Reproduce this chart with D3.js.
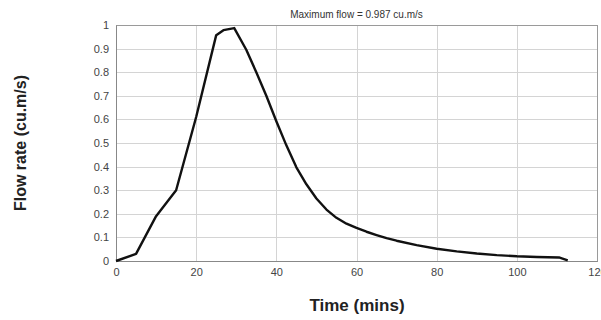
<!DOCTYPE html>
<html><head><meta charset="utf-8">
<script src="https://cdnjs.cloudflare.com/ajax/libs/d3/7.8.5/d3.min.js"></script>
<style>body{margin:0;background:#fff}svg{display:block}</style>
</head><body><svg id="c" width="601" height="320"></svg>
<script>
const time = [0,5,10,15,20,25,26.8,29.5,32.5,35,37.5,40,42.5,45,47.5,50,52.5,55,57.5,60,62.5,65,67.5,70,75,80,85,90,95,100,105,110.5,112.7];
const flow = [0,0.03,0.19,0.3,0.61,0.957,0.978,0.987,0.895,0.80,0.70,0.592,0.49,0.397,0.325,0.265,0.218,0.183,0.158,0.14,0.124,0.11,0.097,0.086,0.067,0.052,0.041,0.032,0.025,0.02,0.017,0.015,0.003];
const xTicks = [0,20,40,60,80,100,120];
const yTicks = [0,0.1,0.2,0.3,0.4,0.5,0.6,0.7,0.8,0.9,1];
const title = "Maximum flow = 0.987 cu.m/s";
const xTitle = "Time (mins)";
const yTitle = "Flow rate (cu.m/s)";

const svg = d3.select("#c");
const m = {l:116, r:597, t:25, b:261};
const x = d3.scaleLinear().domain([0,120]).range([m.l,m.r]);
const y = d3.scaleLinear().domain([0,1]).range([m.b,m.t]);
const font = "'Liberation Sans', Arial, sans-serif";

// gridlines
svg.append("g").selectAll("line").data(yTicks).join("line")
  .attr("x1",m.l).attr("x2",m.r).attr("y1",d=>Math.round(y(d))+0.5).attr("y2",d=>Math.round(y(d))+0.5)
  .attr("stroke","#d4d4d4");
svg.append("g").selectAll("line").data(xTicks).join("line")
  .attr("y1",m.t).attr("y2",m.b).attr("x1",d=>Math.round(x(d))+0.5).attr("x2",d=>Math.round(x(d))+0.5)
  .attr("stroke","#d4d4d4");
svg.append("rect").attr("x",m.l+0.5).attr("y",m.t+0.5).attr("width",m.r-m.l).attr("height",m.b-m.t)
  .attr("fill","none").attr("stroke","#9a9a9a");

// axes
const xa = svg.append("g").attr("transform",`translate(0,${m.b})`)
  .call(d3.axisBottom(x).tickValues(xTicks).tickSize(0).tickPadding(7).tickFormat(d3.format("d")));
const ya = svg.append("g").attr("transform",`translate(${m.l},0)`)
  .call(d3.axisLeft(y).tickValues(yTicks).tickSize(0).tickPadding(7).tickFormat(d=>d===0?"0":d===1?"1":d3.format(".1f")(d)));
[xa,ya].forEach(a=>{a.select(".domain").attr("stroke","#888");
  a.selectAll("text").attr("font-family",font).attr("font-size",11).attr("fill","#444");});

// line
const pts = time.map((t,i)=>[t,flow[i]]);
svg.append("path").datum(pts)
  .attr("d",d3.line().x(d=>x(d[0])).y(d=>y(d[1])))
  .attr("fill","none").attr("stroke","#111").attr("stroke-width",2.4).attr("stroke-linejoin","round");

// texts
svg.append("text").attr("x",(m.l+m.r)/2).attr("y",18).attr("text-anchor","middle")
  .attr("font-family",font).attr("font-size",10).attr("fill","#333").text(title);
svg.append("text").attr("x",357).attr("y",311).attr("text-anchor","middle")
  .attr("font-family",font).attr("font-size",17).attr("font-weight","bold").attr("fill","#222").text(xTitle);
svg.append("text").attr("transform",`translate(26,${(m.t+m.b)/2}) rotate(-90)`).attr("text-anchor","middle")
  .attr("font-family",font).attr("font-size",16).attr("font-weight","bold").attr("fill","#222").text(yTitle);
</script></body></html>
